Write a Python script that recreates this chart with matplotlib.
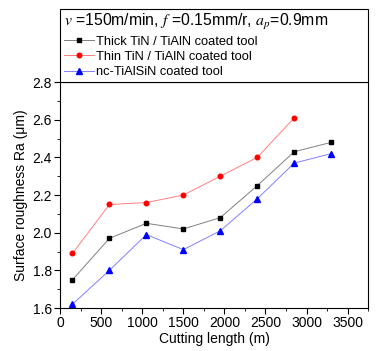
import matplotlib.pyplot as plt
from matplotlib.ticker import MultipleLocator

plt.rcParams['font.family'] = ['Liberation Sans', 'DejaVu Sans']
plt.rcParams['mathtext.fontset'] = 'stix'

length = [150, 600, 1050, 1500, 1950, 2400, 2850, 3300]
thick = [1.75, 1.97, 2.05, 2.02, 2.08, 2.25, 2.43, 2.48]
thin = [1.89, 2.15, 2.16, 2.20, 2.30, 2.40, 2.61]
nc = [1.62, 1.80, 1.99, 1.91, 2.01, 2.18, 2.37, 2.42]

labels = ['Thick TiN / TiAlN coated tool',
          'Thin TiN / TiAlN coated tool',
          'nc-TiAlSiN coated tool']

fig = plt.figure(figsize=(3.76, 3.51), dpi=100)
ax = fig.add_axes([0.16, 0.1225, 0.819, 0.6435])

ax.plot(length, thick, color='#808080', lw=0.7, marker='s', ms=3,
        mfc='black', mec='black', label=labels[0])
ax.plot(length[:len(thin)], thin, color='#ff8080', lw=0.7, marker='o', ms=3.3,
        mfc='red', mec='red', label=labels[1])
ax.plot(length, nc, color='#8080ff', lw=0.7, marker='^', ms=3.8,
        mfc='blue', mec='blue', label=labels[2])

ax.set_xlim(0, 3750)
ax.set_ylim(1.6, 2.8)
ax.xaxis.set_major_locator(MultipleLocator(500))
ax.xaxis.set_minor_locator(MultipleLocator(250))
ax.yaxis.set_major_locator(MultipleLocator(0.2))
ax.yaxis.set_minor_locator(MultipleLocator(0.1))
ax.tick_params(which='major', direction='out', length=4, labelsize=10, pad=2)
ax.tick_params(which='minor', direction='out', length=2)
for s in ax.spines.values():
    s.set_linewidth(0.8)

ax.set_xlabel('Cutting length (m)', fontsize=10, labelpad=1)
ax.set_ylabel('Surface roughness Ra (\u03bcm)', fontsize=10, labelpad=3)

title = r'$v$ =150m/min, $f$ =0.15mm/r, $a_p$=0.9mm'
leg = ax.legend(loc='lower left', bbox_to_anchor=(0, 1, 1, 0.3186),
                mode='expand', borderaxespad=0, fancybox=False,
                edgecolor='black', framealpha=1, fontsize=9.3,
                title=title, title_fontsize=11.3, alignment='left',
                handlelength=2.3, handletextpad=0.2, labelspacing=0.25,
                borderpad=0.3)
leg.get_frame().set_linewidth(0.8)

fig.savefig('out.png', dpi=100)
